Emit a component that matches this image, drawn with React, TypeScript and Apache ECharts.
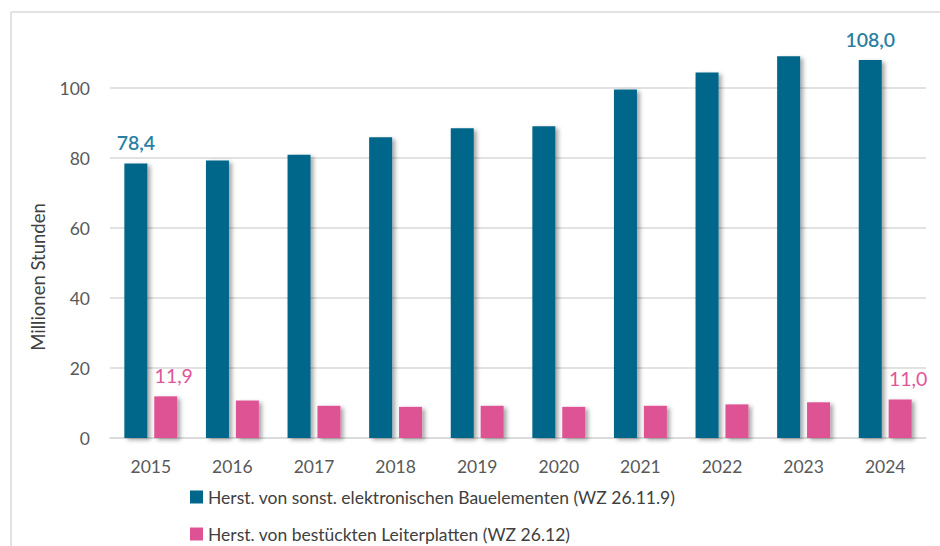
import React, { useEffect, useRef } from "react";
import * as echarts from "echarts";

const years = ["2015", "2016", "2017", "2018", "2019", "2020", "2021", "2022", "2023", "2024"];
const bauelemente = [78.4, 79.3, 80.9, 85.9, 88.5, 89.1, 99.6, 104.4, 109.1, 108.0];
const leiterplatten = [11.9, 10.7, 9.2, 8.9, 9.2, 8.9, 9.2, 9.6, 10.2, 11.0];
const seriesNames = [
  "Herst. von sonst. elektronischen Bauelementen (WZ 26.11.9)",
  "Herst. von bestückten Leiterplatten (WZ 26.12)",
];
const labeledIndices = [0, 9];
const yAxisTitle = "Millionen Stunden";

const FONT = "Lato, 'Open Sans', sans-serif";
const BLUE = "#00668A";
const PINK = "#DE5294";
const BLUE_LABEL = "#2A7FA3";
const PINK_LABEL = "#E0559A";

function withLabels(values: number[], color: string, bold: boolean, dx: number) {
  return values.map((v, i) =>
    labeledIndices.includes(i)
      ? {
          value: v,
          label: {
            show: true,
            position: "top",
            distance: 11,
            offset: [dx, 0],
            color,
            fontSize: 19.5,
            fontWeight: bold ? 600 : 400,
            fontFamily: FONT,
            formatter: (p: any) => p.value.toFixed(1).replace(".", ","),
          },
        }
      : v
  );
}

export default function App() {
  const ref = useRef<HTMLDivElement>(null);
  useEffect(() => {
    if (!ref.current) return;
    const chart = echarts.init(ref.current, undefined, { renderer: "svg" });
    const shadow = {
      shadowColor: "rgba(0,0,0,0.35)",
      shadowBlur: 4,
      shadowOffsetX: 3,
      shadowOffsetY: 2,
    };
    const legendCommon = {
      orient: "horizontal",
      left: 190,
      padding: 0,
      itemWidth: 13,
      itemHeight: 13,
      itemGap: 8,
      icon: "rect",
      selectedMode: false,
      textStyle: { fontSize: 17.5, color: "#404040", fontFamily: FONT },
    };
    chart.setOption({
      animation: false,
      backgroundColor: "#ffffff",
      textStyle: { fontFamily: FONT },
      grid: { left: 110, right: 14, top: 18, bottom: 108, containLabel: false },
      legend: [
        { ...legendCommon, top: 488, data: [seriesNames[0]] },
        { ...legendCommon, top: 525, data: [seriesNames[1]] },
      ],
      xAxis: {
        type: "category",
        data: years,
        axisLine: { lineStyle: { color: "#d9d9d9", width: 1.5 } },
        axisTick: { show: false },
        axisLabel: { color: "#595959", fontSize: 17.5, margin: 19, fontFamily: FONT },
      },
      yAxis: {
        type: "value",
        min: 0,
        max: 120,
        interval: 20,
        axisLine: { show: false },
        axisTick: { show: false },
        axisLabel: { color: "#595959", fontSize: 17.5, margin: 20, showMaxLabel: false, fontFamily: FONT },
        splitLine: { show: true, showMaxLine: false, lineStyle: { color: "#d9d9d9", width: 1.5 } },
      },
      series: [
        {
          name: seriesNames[0],
          type: "bar",
          barWidth: 23,
          barGap: "30%",
          itemStyle: { color: BLUE, ...shadow },
          data: withLabels(bauelemente, BLUE_LABEL, true, 0),
        },
        {
          name: seriesNames[1],
          type: "bar",
          barWidth: 23,
          barGap: "30%",
          itemStyle: { color: PINK, ...shadow },
          data: withLabels(leiterplatten, PINK_LABEL, false, 8),
        },
      ],
      graphic: [
        { type: "line", shape: { x1: 11, y1: 12, x2: 11, y2: 546 }, style: { stroke: "#d9d9d9", lineWidth: 1.5 } },
        { type: "line", shape: { x1: 11, y1: 12, x2: 940, y2: 12 }, style: { stroke: "#d9d9d9", lineWidth: 1.5 } },
        {
          type: "text",
          x: 38,
          y: 277,
          rotation: Math.PI / 2,
          style: {
            text: yAxisTitle,
            fill: "#404040",
            fontSize: 18.5,
            fontFamily: FONT,
            align: "center",
            verticalAlign: "middle",
          },
        },
      ],
    });
    return () => chart.dispose();
  }, []);
  return <div ref={ref} style={{ width: 940, height: 546, position: "absolute", left: 0, top: 0 }} />;
}
